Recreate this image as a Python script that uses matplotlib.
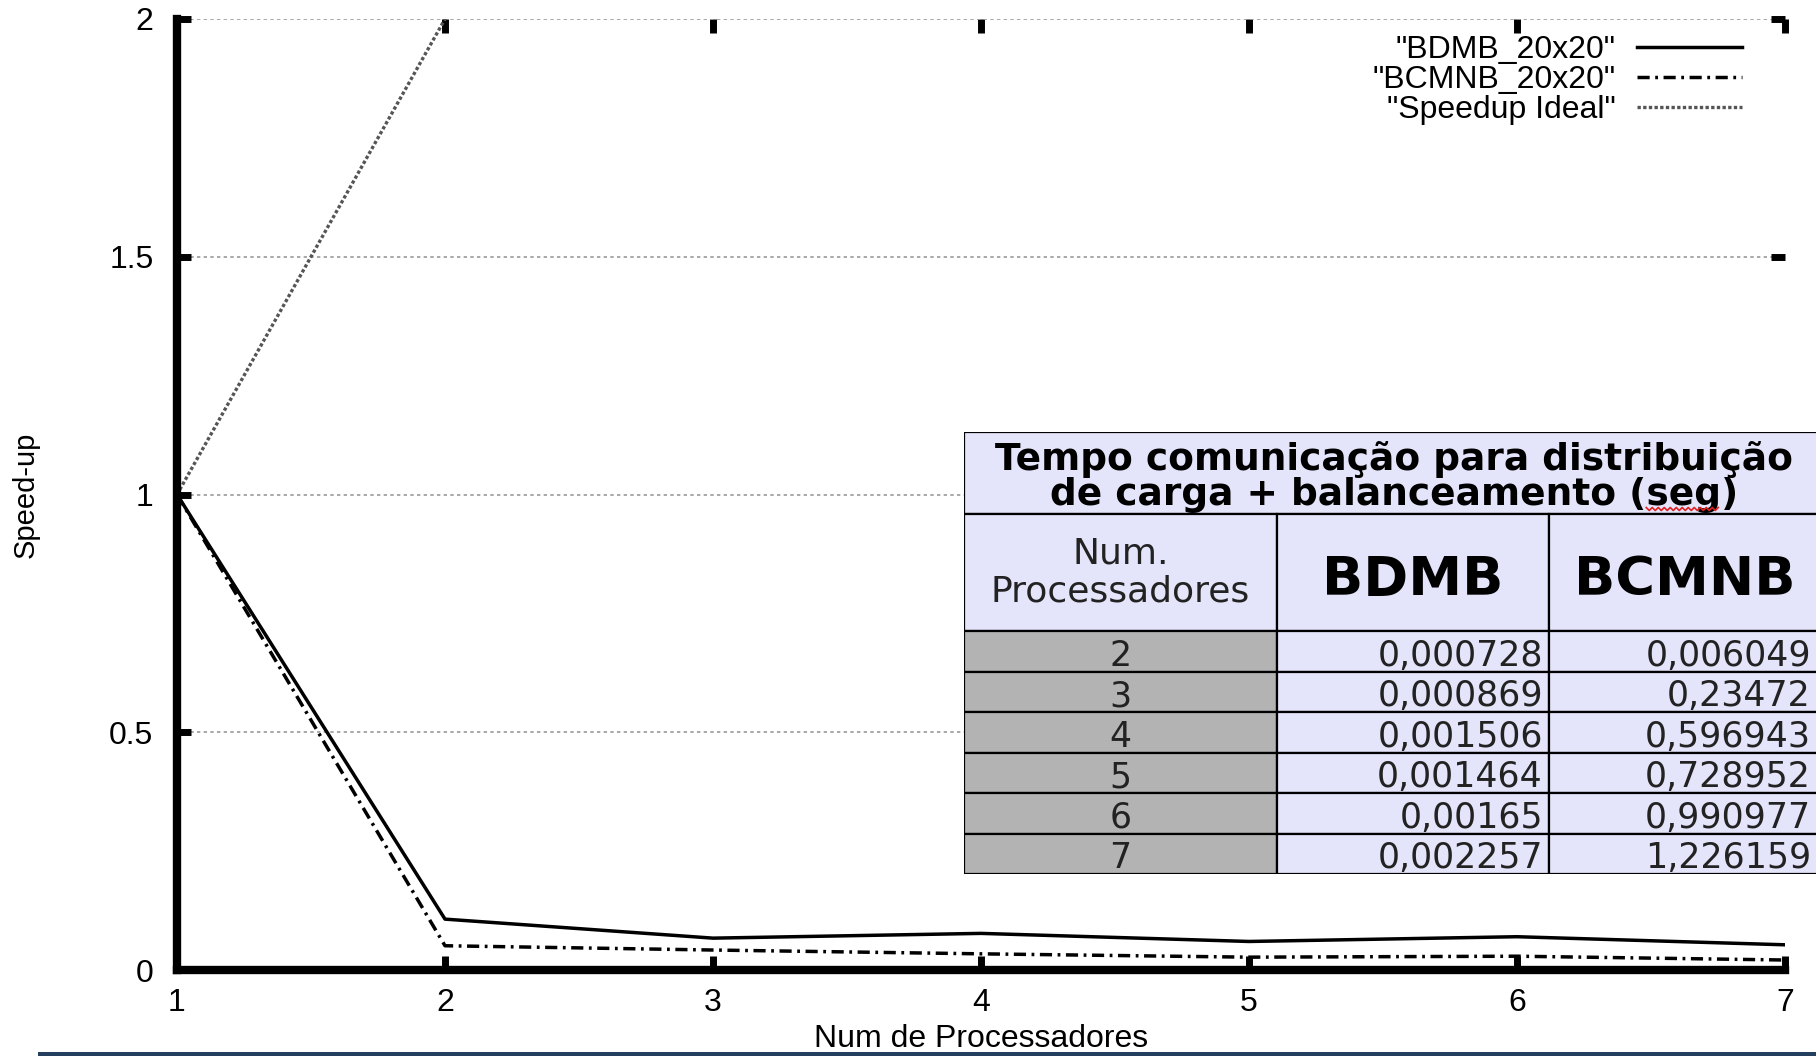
import numpy as np
import matplotlib
matplotlib.use("Agg")
import matplotlib.pyplot as plt
from matplotlib.patches import Rectangle
from matplotlib.lines import Line2D
from matplotlib.transforms import IdentityTransform

plt.rcParams['font.family'] = ['Liberation Sans', 'DejaVu Sans']

# speed-up data
num_proc = [1, 2, 3, 4, 5, 6, 7]
speedup_bdmb = [1.0, 0.107, 0.067, 0.077, 0.060, 0.070, 0.053]
speedup_bcmnb = [1.0, 0.051, 0.042, 0.034, 0.027, 0.029, 0.021]
speedup_ideal = [1, 2, 3, 4, 5, 6, 7]

series_labels = ['"BDMB_20x20"', '"BCMNB_20x20"', '"Speedup Ideal"']
yticks = [0, 0.5, 1, 1.5, 2]
ytick_labels = ['0', '0.5', '1', '1.5', '2']

# table of communication time
table_title = ['Tempo comunicação para distribuição', 'de carga + balanceamento (seg)']
table_header = ['Num.\nProcessadores', 'BDMB', 'BCMNB']
table_procs = ['2', '3', '4', '5', '6', '7']
tempo_bdmb = ['0,000728', '0,000869', '0,001506', '0,001464', '0,00165', '0,002257']
tempo_bcmnb = ['0,006049', '0,23472', '0,596943', '0,728952', '0,990977', '1,226159']

W, H = 1816, 1056
fig = plt.figure(figsize=(W / 100, H / 100), dpi=100)
ax = fig.add_axes([177 / W, 1 - 970 / H, (1785 - 177) / W, (970 - 19) / H])

ax.plot(num_proc, speedup_bdmb, color='black', lw=2.5, label=series_labels[0])
ax.plot(num_proc, speedup_bcmnb, color='black', lw=2.5,
        linestyle=(0, (3.5, 1.6, 0.8, 1.6)), label=series_labels[1])
ax.plot(num_proc, speedup_ideal, color='#555555', lw=2.4,
        linestyle=(0, (1, 0.7)), label=series_labels[2])

ax.set_xlim(1, 7)
ax.set_ylim(0, 2)
ax.set_xticks(num_proc)
ax.set_yticks(yticks)
ax.set_yticklabels(ytick_labels)
ax.spines['top'].set_visible(False)
ax.spines['right'].set_visible(False)
for s in ['left', 'bottom']:
    ax.spines[s].set_linewidth(6)
ax.tick_params(direction='in', length=10, width=5, top=True, right=True,
               labelsize=23)
ax.tick_params(axis='x', pad=13)
ax.tick_params(axis='y', pad=17)
ax.yaxis.grid(True, color='#999999', linestyle=(0, (2, 2)), linewidth=1.2)
ax.set_xlabel('Num de Processadores', fontsize=23, labelpad=4)
ax.set_ylabel('Speed-up', fontsize=21, labelpad=50)

ax.legend(loc='upper right', bbox_to_anchor=(0.9733, 0.983), frameon=False,
          markerfirst=False, fontsize=23, handlelength=3.3, handletextpad=0.66,
          labelspacing=0, borderpad=0, borderaxespad=0)

# table inset (pixel units inside its own axes)
tx0, ty0, tw, th = 964, 432, 856, 442
tax = fig.add_axes([tx0 / W, 1 - (ty0 + th) / H, tw / W, th / H])
tax.set_xlim(0, tw)
tax.set_ylim(th, 0)
tax.axis('off')

col_edges = [0, 313, 585, tw]
title_h, header_h = 82, 117
row_h = (th - title_h - header_h) / len(table_procs)
lav = '#e4e4fa'
gray = '#b3b3b3'
blw = 1.6

tax.add_patch(Rectangle((0, 0), tw, title_h, facecolor=lav, edgecolor='black', lw=blw))
tfont = dict(family='DejaVu Sans', fontweight='bold', fontsize=27, ha='center', va='center_baseline')
tax.text(tw / 2 + 2, 23, table_title[0], **tfont)
t2 = tax.text(tw / 2 + 2, 59, table_title[1], **tfont)

for j in range(3):
    x0, x1 = col_edges[j], col_edges[j + 1]
    tax.add_patch(Rectangle((x0, title_h), x1 - x0, header_h, facecolor=lav,
                            edgecolor='black', lw=blw))
hy = title_h + header_h / 2
tax.text((col_edges[0] + col_edges[1]) / 2, hy, table_header[0], family='DejaVu Sans',
         fontsize=26, ha='center', va='center', linespacing=1.15, color='#222222')
for j in (1, 2):
    tax.text((col_edges[j] + col_edges[j + 1]) / 2, hy + 2, table_header[j],
             family='DejaVu Sans', fontweight='bold', fontsize=39,
             ha='center', va='center_baseline')

for i, p in enumerate(table_procs):
    y0 = title_h + header_h + i * row_h
    yc = y0 + row_h / 2 + 1
    for j in range(3):
        x0, x1 = col_edges[j], col_edges[j + 1]
        tax.add_patch(Rectangle((x0, y0), x1 - x0, row_h,
                                facecolor=gray if j == 0 else lav,
                                edgecolor='black', lw=blw))
    tax.text((col_edges[0] + col_edges[1]) / 2, yc, p, family='DejaVu Sans',
             fontsize=25, ha='center', va='center_baseline', color='#222222')
    tax.text(col_edges[2] - 6, yc, tempo_bdmb[i], family='DejaVu Sans',
             fontsize=25, ha='right', va='center_baseline', color='#222222')
    tax.text(col_edges[3] - 9, yc, tempo_bcmnb[i], family='DejaVu Sans',
             fontsize=25, ha='right', va='center_baseline', color='#222222')

# red spell-check squiggle under "seg"
fig.canvas.draw()
r = fig.canvas.get_renderer()
bb = t2.get_window_extent(r)
fp = t2.get_fontproperties()
w_pre = r.get_text_width_height_descent('de carga + balanceamento (', fp, ismath=False)[0]
w_seg = r.get_text_width_height_descent('seg', fp, ismath=False)[0]
_, _, d = r.get_text_width_height_descent(table_title[1], fp, ismath=False)
sx = np.arange(bb.x0 + w_pre, bb.x0 + w_pre + w_seg, 3.0)
sy = bb.y0 + d - 4 + np.where(np.arange(len(sx)) % 2 == 0, 1.5, -1.5)
fig.add_artist(Line2D(sx, sy, transform=IdentityTransform(), color='#e02020', lw=1.2))

# dark strip at bottom edge
fig.add_artist(Rectangle((38 / W, 0), 1, 4 / H, transform=fig.transFigure,
                         facecolor='#24405e', edgecolor='none', zorder=20))

fig.savefig('out.png', dpi=100)
